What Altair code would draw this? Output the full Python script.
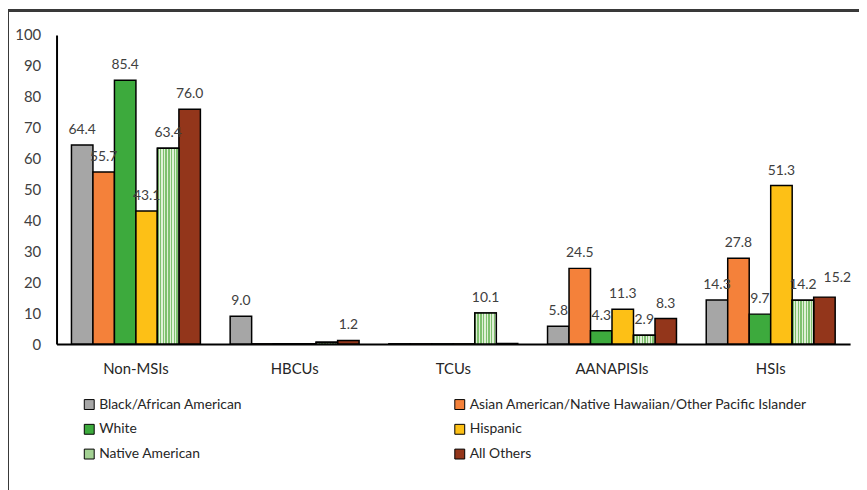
import altair as alt
import pandas as pd

categories = ["Non-MSIs", "HBCUs", "TCUs", "AANAPISIs", "HSIs"]
series = ["Black/African American",
          "Asian American/Native Hawaiian/Other Pacific Islander",
          "White", "Hispanic", "Native American", "All Others"]
colors = ["#a6a6a6", "#f4813a", "#3daa3d", "#fdc016", "#a3d193", "#93361b"]

values = {
    "Non-MSIs":  [64.4, 55.7, 85.4, 43.1, 63.4, 76.0],
    "HBCUs":     [9.0, 0.1, 0.1, 0.1, 0.6, 1.2],
    "TCUs":      [0.1, 0.1, 0.1, 0.1, 10.1, 0.2],
    "AANAPISIs": [5.8, 24.5, 4.3, 11.3, 2.9, 8.3],
    "HSIs":      [14.3, 27.8, 9.7, 51.3, 14.2, 15.2],
}
labels = {
    "Non-MSIs":  ["64.4", "55.7", "85.4", "43.1", "63.4", "76.0"],
    "HBCUs":     ["9.0", "", "", "", "", "1.2"],
    "TCUs":      ["", "", "", "", "10.1", ""],
    "AANAPISIs": ["5.8", "24.5", "4.3", "11.3", "2.9", "8.3"],
    "HSIs":      ["14.3", "27.8", "9.7", "51.3", "14.2", "15.2"],
}

rows = []
for c in categories:
    for s, v, l in zip(series, values[c], labels[c]):
        rows.append({"cat": c, "series": s, "value": v, "label": l})
df = pd.DataFrame(rows)

# legend fills column by column: reorder so rows read as in the reference
legend_order = [0, 2, 4, 1, 3, 5]
leg_domain = [series[i] for i in legend_order]
leg_range = [colors[i] for i in legend_order]

FONT = "Lato"

x = alt.X("cat:N", sort=categories, title=None,
          scale=alt.Scale(paddingInner=0.1875, paddingOuter=0.094),
          axis=alt.Axis(labelAngle=0, ticks=False, domainColor="black",
                        domainWidth=2, labelPadding=18, labelFontSize=15,
                        labelColor="#262626", labelFont=FONT))
xoff = alt.XOffset("series:N", sort=series,
                   scale=alt.Scale(paddingInner=0, paddingOuter=0))
y = alt.Y("value:Q", title=None,
          scale=alt.Scale(domain=[0, 100], nice=False),
          axis=alt.Axis(values=list(range(0, 101, 10)), grid=False,
                        ticks=False, domainColor="black", domainWidth=2,
                        labelPadding=16, labelFontSize=15,
                        labelColor="#404040", labelFont=FONT))

bars = alt.Chart(df).mark_bar(stroke="black", strokeWidth=1.5).encode(
    x=x, xOffset=xoff, y=y,
    color=alt.Color("series:N",
                    scale=alt.Scale(domain=leg_domain, range=leg_range),
                    legend=alt.Legend(title=None, orient="none",
                                      legendX=26, legendY=366, columns=2,
                                      columnPadding=212, rowPadding=11,
                                      symbolType="square", symbolSize=100,
                                      symbolStrokeColor="black",
                                      symbolStrokeWidth=1,
                                      labelFontSize=14, labelFont=FONT,
                                      labelColor="#262626", labelOffset=3,
                                      labelLimit=400)),
)

grad = {
    "gradient": "linear", "x1": 0, "y1": 0, "x2": 1, "y2": 0,
    "stops": [
        {"offset": o, "color": c} for i in range(8)
        for o, c in [(i / 8, "#7fc06f"), ((i + 0.5) / 8, "#7fc06f"),
                     ((i + 0.5) / 8, "#dff0d6"), ((i + 1) / 8, "#dff0d6")]
    ],
}
native = alt.Chart(df).transform_filter(
    alt.datum.series == "Native American"
).mark_bar(stroke="black", strokeWidth=1.5).encode(
    x=x, xOffset=xoff, y=y, fill=alt.value(grad)
)

is_moved = (alt.datum.cat == "HSIs") & (alt.datum.series == "All Others")

text = alt.Chart(df).transform_filter(~is_moved).mark_text(
    baseline="bottom", dy=-8, fontSize=14, font=FONT, color="#404040"
).encode(x=x, xOffset=xoff, y=y, text="label:N")

text_moved = alt.Chart(df).transform_filter(is_moved).mark_text(
    baseline="bottom", dx=13, dy=-12, fontSize=14, font=FONT, color="#404040"
).encode(x=x, xOffset=xoff, y=y, text="label:N")

frame_top = alt.Chart(df).mark_rule(color="#3a3a3a", strokeWidth=2, clip=False).encode(
    x=alt.value(-49), x2=alt.value(900), y=alt.value(-25))
frame_left = alt.Chart(df).mark_rule(color="#3a3a3a", strokeWidth=2, clip=False).encode(
    x=alt.value(-49), y=alt.value(-25), y2=alt.value(600))

chart = alt.layer(bars, native, text, text_moved,
                  frame_top, frame_left).properties(
    width=801, height=312,
    autosize=alt.AutoSizeParams(type="none"),
    padding={"left": 49, "top": 25, "right": 9, "bottom": 145},
).configure_view(stroke=None)

chart.save("out.html", embed_options={"renderer": "svg", "actions": False})
